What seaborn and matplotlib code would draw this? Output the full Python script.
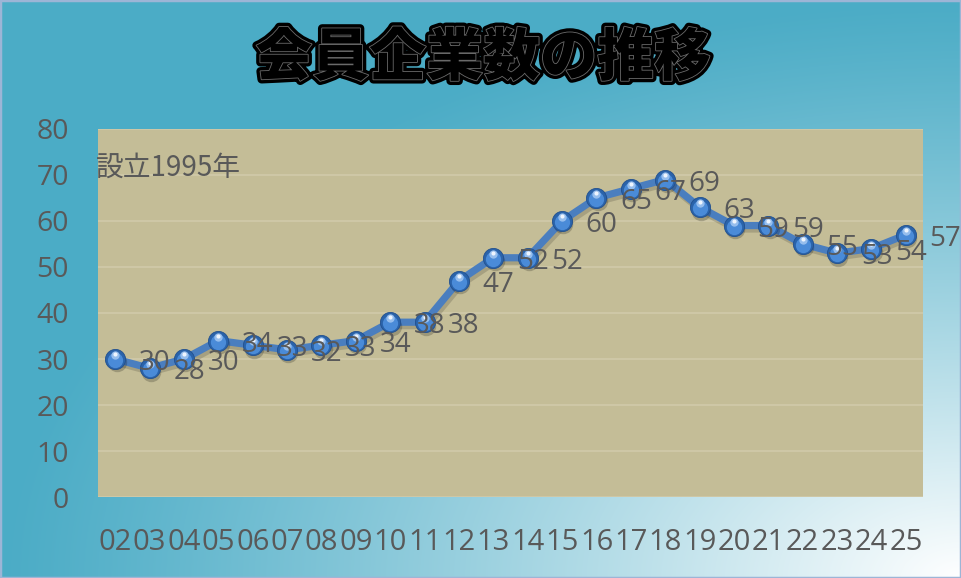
import numpy as np
import pandas as pd
import matplotlib
matplotlib.use("Agg")
import matplotlib.pyplot as plt
import matplotlib.patheffects as pe
from matplotlib.transforms import ScaledTranslation
from matplotlib.patches import Rectangle
import seaborn as sns

# Data
years = ["02", "03", "04", "05", "06", "07", "08", "09", "10", "11", "12", "13",
         "14", "15", "16", "17", "18", "19", "20", "21", "22", "23", "24", "25"]
members = [30, 28, 30, 34, 33, 32, 33, 34, 38, 38, 47, 52,
           52, 60, 65, 67, 69, 63, 59, 59, 55, 53, 54, 57]
y_ticks = [0, 10, 20, 30, 40, 50, 60, 70, 80]
title = "会員企業数の推移"
note = "設立1995年"

df = pd.DataFrame({"year": years, "members": members})

sns.set_style("white")
plt.rcParams["font.family"] = ["Open Sans", "Noto Sans CJK JP", "DejaVu Sans"]

fig = plt.figure(figsize=(9.61, 5.78), dpi=100)

# gradient background: teal fading to white at bottom-right corner
H, W = 578, 961
yy, xx = np.mgrid[0:H, 0:W]
u = (W - xx) / W
v = (H - yy) / H
f = np.clip(1 - np.sqrt(u ** 2 + v ** 2), 0, 1) ** 1.15
teal = np.array([75, 172, 198]) / 255
white = np.array([1.0, 1.0, 1.0])
img = teal + (white - teal) * f[..., None]
bg = fig.add_axes([0, 0, 1, 1], zorder=-10)
bg.imshow(img, aspect="auto", extent=[0, 1, 0, 1])
bg.axis("off")
fig.add_artist(Rectangle((0, 0), 1, 1, transform=fig.transFigure, fill=False,
                         edgecolor="#9DB5D6", lw=2.5))

ax = fig.add_axes([0.102, 0.140, 0.8585, 0.637])
ax.set_facecolor("#C4BD97")
for s in ax.spines.values():
    s.set_visible(False)

sns.lineplot(data=df, x="year", y="members", ax=ax, color="#4A7EBF", lw=5.2,
             sort=False, zorder=3,
             path_effects=[pe.SimpleLineShadow(offset=(1.5, -2.5), alpha=0.15), pe.Normal()])

def shifted(dx, dy):
    return ax.transData + ScaledTranslation(dx / 72, dy / 72, fig.dpi_scale_trans)

# sphere-like markers
ax.plot(df["year"], df["members"], ls="none", marker="o", ms=14, color="black",
        alpha=0.2, mew=0, transform=shifted(1, -2.5), zorder=4)
ax.plot(df["year"], df["members"], ls="none", marker="o", ms=14.5, color="#2A63AA",
        mec="#22508E", mew=0.6, zorder=5)
ax.plot(df["year"], df["members"], ls="none", marker="o", ms=11, color="#4A8BD8",
        mew=0, transform=shifted(0, -0.9), zorder=6)
ax.plot(df["year"], df["members"], ls="none", marker="o", ms=6, color="#9FC4F0",
        alpha=0.9, mew=0, transform=shifted(0, 2.8), zorder=7)
ax.plot(df["year"], df["members"], ls="none", marker="o", ms=3, color="#EEF5FE",
        mew=0, transform=shifted(0, 3.6), zorder=7)

# data labels to the right of each point
for yr, val in zip(df["year"], df["members"]):
    ax.annotate(str(val), (yr, val), xytext=(17, -3), textcoords="offset points",
                ha="left", va="center", fontsize=20, color="#595959", zorder=8)

ax.set_xlim(-0.5, len(years) - 0.5)
ax.set_ylim(0, 80)
ax.set_yticks(y_ticks)
ax.grid(axis="y", color="#D0C9A8", lw=1.3)
ax.grid(axis="x", visible=False)
ax.set_axisbelow(True)
ax.set_xlabel("")
ax.set_ylabel("")
ax.tick_params(axis="y", length=0, pad=21, labelsize=20.5, labelcolor="#595959")
ax.tick_params(axis="x", length=0, pad=22, labelsize=21, labelcolor="#595959")

ax.text(-0.002, 0.894, note, transform=ax.transAxes, ha="left", va="center",
        fontsize=20, color="#595959", family=["Noto Sans CJK JP", "DejaVu Sans"])

fig.text(0.503, 0.898, title, ha="center", va="center", fontsize=41,
         fontweight="black", color="black", family=["Noto Sans CJK JP", "DejaVu Sans"],
         path_effects=[pe.Stroke(linewidth=6, foreground="black"),
                       pe.Stroke(linewidth=1.2, foreground="#6a6a6a"),
                       pe.Normal()])

fig.savefig("out.png", dpi=100)
plt.close(fig)
